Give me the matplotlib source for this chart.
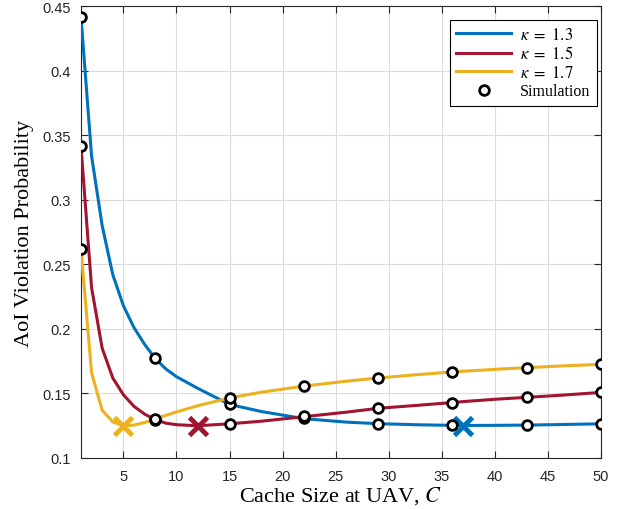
import numpy as np
import matplotlib.pyplot as plt

plt.rcParams['mathtext.fontset'] = 'stix'

# analytical curves
C_curve = [1, 2, 3, 4, 5, 6, 7, 8, 9, 10, 12, 15, 18, 22, 26, 29, 33, 36, 37, 40, 43, 46, 50]
p13 = [0.442, 0.334, 0.280, 0.242, 0.218, 0.201, 0.188, 0.177, 0.169, 0.163, 0.154, 0.1415, 0.136,
       0.1305, 0.1278, 0.1266, 0.1257, 0.1253, 0.1252, 0.1253, 0.1255, 0.1259, 0.1265]
p15 = [0.342, 0.232, 0.185, 0.162, 0.149, 0.140, 0.134, 0.1297, 0.127, 0.1258, 0.125, 0.1265, 0.1285,
       0.132, 0.1355, 0.1385, 0.141, 0.143, 0.1437, 0.1455, 0.147, 0.1485, 0.1508]
p17 = [0.262, 0.166, 0.137, 0.128, 0.125, 0.1255, 0.1275, 0.1303, 0.133, 0.1357, 0.1405, 0.1465, 0.151,
       0.1557, 0.1595, 0.162, 0.1648, 0.1667, 0.1672, 0.1687, 0.170, 0.1712, 0.1726]

# simulation points
C_sim = [1, 8, 15, 22, 29, 36, 43, 50]
s13 = [0.4415, 0.1773, 0.1415, 0.1310, 0.1265, 0.1255, 0.1255, 0.1266]
s15 = [0.342, 0.1295, 0.1267, 0.1323, 0.1385, 0.1430, 0.1470, 0.1509]
s17 = [0.262, 0.1305, 0.1465, 0.1557, 0.1620, 0.1667, 0.1700, 0.1726]

# optimal cache sizes
C_opt = [37, 12, 5]
p_opt = [0.1248, 0.1248, 0.1248]

colors = ['#0072BD', '#A2142F', '#EDB120']
labels = [r'$\kappa\ =\ 1.3$', r'$\kappa\ =\ 1.5$', r'$\kappa\ =\ 1.7$']

fig = plt.figure(figsize=(6.18, 5.10), dpi=100)
ax = fig.add_axes([0.131, 0.1, 0.8415, 0.8857])

for p, c, lab in zip([p13, p15, p17], colors, labels):
    ax.plot(C_curve, p, color=c, lw=2.2, label=lab, zorder=3)
for s in [s13, s15, s17]:
    ax.plot(C_sim, s, 'o', mfc='white', mec='black', mew=2, ms=7, zorder=5)
for x, y, c in zip(C_opt, p_opt, colors):
    ax.plot(x, y, 'x', color=c, ms=13, mew=3.5, zorder=4)

ax.plot([], [], 'o', mfc='white', mec='black', mew=2, ms=7, label='Simulation')

ax.set_xlim(1, 50)
ax.set_ylim(0.1, 0.45)
ax.set_xticks(range(5, 51, 5))
ax.set_yticks(np.arange(0.1, 0.451, 0.05))
ax.set_yticklabels(['0.1', '0.15', '0.2', '0.25', '0.3', '0.35', '0.4', '0.45'])
ax.grid(True, color='#dcdcdc', lw=0.8)
ax.set_axisbelow(True)
ax.tick_params(direction='in', top=True, right=True, labelsize=10.5, colors='#262626', length=5)
ax.tick_params(axis='x', pad=8)
ax.tick_params(axis='y', pad=7)
for t in ax.get_xticklabels() + ax.get_yticklabels():
    t.set_fontfamily('Liberation Sans')
for sp in ax.spines.values():
    sp.set_color('#262626')

ax.set_xlabel('Cache Size at UAV, $C$', fontsize=16, fontfamily='Liberation Serif', labelpad=1)
ax.set_ylabel('AoI Violation Probability', fontsize=16, fontfamily='Liberation Serif', labelpad=6)

leg = ax.legend(loc='upper right', prop={'family': 'Liberation Serif', 'size': 12},
                fancybox=False, edgecolor='black', framealpha=1, handlelength=3.3,
                handletextpad=0.5, borderaxespad=0, labelspacing=0.15, borderpad=0.4,
                bbox_to_anchor=(0.992, 0.969))
leg.get_frame().set_linewidth(0.8)
leg.get_texts()[-1].set_fontsize(11.5)

fig.savefig('out.png', dpi=100)
